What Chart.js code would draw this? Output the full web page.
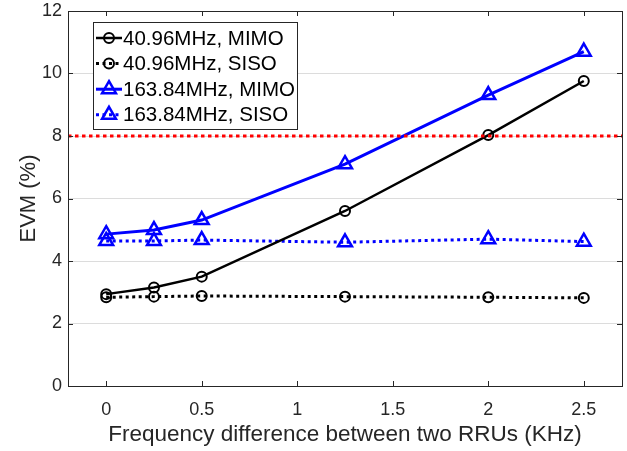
<!DOCTYPE html>
<html><head><meta charset="utf-8">
<script src="https://cdn.jsdelivr.net/npm/chart.js@4/dist/chart.umd.min.js"></script>
<style>html,body{margin:0;padding:0;background:#fff;} canvas{display:block;}</style>
</head><body>
<canvas id="c" width="627" height="451"></canvas>
<script>
// ---- data ----
const xValues = [0, 0.25, 0.5, 1.25, 2, 2.5];
const mimo4096 = [2.94, 3.15, 3.50, 5.60, 8.03, 9.76];
const siso4096 = [2.84, 2.86, 2.88, 2.86, 2.84, 2.82];
const mimo16384 = [4.86, 4.99, 5.31, 7.10, 9.31, 10.70];
const siso16384 = [4.64, 4.64, 4.67, 4.60, 4.70, 4.62];
const thresholdX = [-0.2, 2.7];
const thresholdY = [8, 8];
const seriesNames = ['40.96MHz, MIMO', '40.96MHz, SISO', '163.84MHz, MIMO', '163.84MHz, SISO'];
const xTickValues = [0, 0.5, 1, 1.5, 2, 2.5];
const xTickLabels = ['0', '0.5', '1', '1.5', '2', '2.5'];
const yTickValues = [0, 2, 4, 6, 8, 10, 12];
const yTickLabels = ['0', '2', '4', '6', '8', '10', '12'];
const xTitle = 'Frequency difference between two RRUs (KHz)';
const yTitle = 'EVM (%)';

const FONT = "'Liberation Sans', Arial, Helvetica, sans-serif";
const AX = '#262626';

function pts(ys, xs) { return ys.map((y, i) => ({x: (xs || xValues)[i], y})); }

function drawMarker(ctx, style, r, x, y) {
  ctx.beginPath();
  if (style === 'circle') {
    ctx.arc(x, y, r, 0, Math.PI * 2);
  } else {
    let rad = 0;
    ctx.moveTo(x + Math.sin(rad) * r, y - Math.cos(rad) * r);
    rad += 2 * Math.PI / 3;
    ctx.lineTo(x + Math.sin(rad) * r, y - Math.cos(rad) * r);
    rad += 2 * Math.PI / 3;
    ctx.lineTo(x + Math.sin(rad) * r, y - Math.cos(rad) * r);
    ctx.closePath();
  }
  ctx.stroke();
}

const frameTicks = {
  id: 'frameTicks',
  afterDatasetsDraw(chart) {
    const {ctx, chartArea: a, scales} = chart;
    ctx.save();
    ctx.strokeStyle = AX;
    ctx.lineWidth = 1;
    ctx.setLineDash([]);
    const L = 5;
    ctx.beginPath();
    xTickValues.forEach(v => {
      const px = Math.round(scales.x.getPixelForValue(v)) + 0.5;
      ctx.moveTo(px, a.bottom); ctx.lineTo(px, a.bottom - L);
      ctx.moveTo(px, a.top); ctx.lineTo(px, a.top + L);
    });
    yTickValues.forEach(v => {
      const py = Math.round(scales.y.getPixelForValue(v)) + 0.5;
      ctx.moveTo(a.left, py); ctx.lineTo(a.left + L, py);
      ctx.moveTo(a.right, py); ctx.lineTo(a.right - L, py);
    });
    ctx.stroke();
    ctx.strokeRect(Math.round(a.left) + 0.5, Math.round(a.top) + 0.5,
                   Math.round(a.right - a.left), Math.round(a.bottom - a.top));
    ctx.restore();
  }
};

const boxLegend = {
  id: 'boxLegend',
  afterDraw(chart) {
    const {ctx, chartArea: a} = chart;
    const bx = a.left + 25, by = a.top + 11, bw = 204, bh = 107;
    ctx.save();
    ctx.fillStyle = '#fff';
    ctx.fillRect(bx, by, bw, bh);
    ctx.strokeStyle = AX;
    ctx.lineWidth = 1;
    ctx.strokeRect(bx + 0.5, by + 0.5, bw, bh);
    ctx.font = '20.5px ' + FONT;
    ctx.textBaseline = 'middle';
    ctx.textAlign = 'left';
    for (let i = 0; i < 4; i++) {
      const ds = chart.data.datasets[i];
      const cy = by + 16 + i * 25.6;
      ctx.strokeStyle = ds.borderColor;
      ctx.lineWidth = ds.borderWidth;
      ctx.setLineDash(ds.borderDash || []);
      ctx.beginPath();
      ctx.moveTo(bx + 3, cy); ctx.lineTo(bx + 29, cy);
      ctx.stroke();
      ctx.setLineDash([]);
      ctx.lineWidth = ds.pointBorderWidth;
      drawMarker(ctx, ds.pointStyle, ds.pointRadius, bx + 16, cy);
      ctx.fillStyle = '#000';
      ctx.fillText(seriesNames[i], bx + 30, cy + 1);
    }
    ctx.restore();
  }
};

const bg = {
  id: 'bg',
  beforeDraw(chart) {
    const ctx = chart.ctx;
    ctx.save(); ctx.fillStyle = '#fff'; ctx.fillRect(0, 0, chart.width, chart.height); ctx.restore();
  }
};

new Chart(document.getElementById('c'), {
  type: 'line',
  data: {
    datasets: [
      {label: seriesNames[0], data: pts(mimo4096), borderColor: '#000', borderWidth: 2.5,
       pointStyle: 'circle', pointRadius: 5, pointBorderWidth: 2, pointBorderColor: '#000',
       pointBackgroundColor: 'rgba(0,0,0,0)', order: 2},
      {label: seriesNames[1], data: pts(siso4096), borderColor: '#000', borderWidth: 3, borderDash: [3, 3.5],
       pointStyle: 'circle', pointRadius: 5, pointBorderWidth: 2, pointBorderColor: '#000',
       pointBackgroundColor: 'rgba(0,0,0,0)', order: 3},
      {label: seriesNames[2], data: pts(mimo16384), borderColor: '#0000ff', borderWidth: 3,
       pointStyle: 'triangle', pointRadius: 8, pointBorderWidth: 2.5, pointBorderColor: '#0000ff',
       pointBackgroundColor: 'rgba(0,0,0,0)', order: 4},
      {label: seriesNames[3], data: pts(siso16384), borderColor: '#0000ff', borderWidth: 3, borderDash: [3, 3.5],
       pointStyle: 'triangle', pointRadius: 8, pointBorderWidth: 2.5, pointBorderColor: '#0000ff',
       pointBackgroundColor: 'rgba(0,0,0,0)', order: 5},
      {label: 'threshold', data: pts(thresholdY, thresholdX), borderColor: '#ff0000', borderWidth: 3,
       borderDash: [3.5, 3.5], pointRadius: 0, order: 1}
    ]
  },
  options: {
    responsive: false,
    animation: false,
    events: [],
    layout: {autoPadding: false, padding: {left: 0, right: 5, top: 11, bottom: 0}},
    plugins: {legend: {display: false}, tooltip: {enabled: false}},
    elements: {line: {tension: 0, fill: false}},
    scales: {
      x: {
        type: 'linear', min: -0.2, max: 2.7,
        afterBuildTicks(s) { s.ticks = xTickValues.map(v => ({value: v})); },
        afterFit(s) { s.height = 65; s.paddingLeft = 0; s.paddingRight = 0; },
        grid: {display: false},
        border: {display: false},
        ticks: {
          autoSkip: false, maxRotation: 0, padding: 5, color: AX,
          font: {family: FONT, size: 18},
          callback: (v, i) => xTickLabels[i]
        },
        title: {display: true, text: xTitle, color: AX, font: {family: FONT, size: 22.5},
                padding: {top: 0, bottom: 3}}
      },
      y: {
        type: 'linear', min: 0, max: 12,
        afterBuildTicks(s) { s.ticks = yTickValues.map(v => ({value: v})); },
        afterFit(s) { s.width = 68; s.paddingTop = 0; s.paddingBottom = 0; },
        grid: {color: '#dcdcdc', lineWidth: 1, drawTicks: false},
        border: {display: false},
        ticks: {
          padding: 6, color: AX,
          font: {family: FONT, size: 18},
          callback: (v, i) => yTickLabels[i]
        },
        title: {display: true, text: yTitle, color: AX, font: {family: FONT, size: 22},
                padding: {top: 16, bottom: 0}}
      }
    }
  },
  plugins: [bg, frameTicks, boxLegend]
});
</script>
</body></html>
